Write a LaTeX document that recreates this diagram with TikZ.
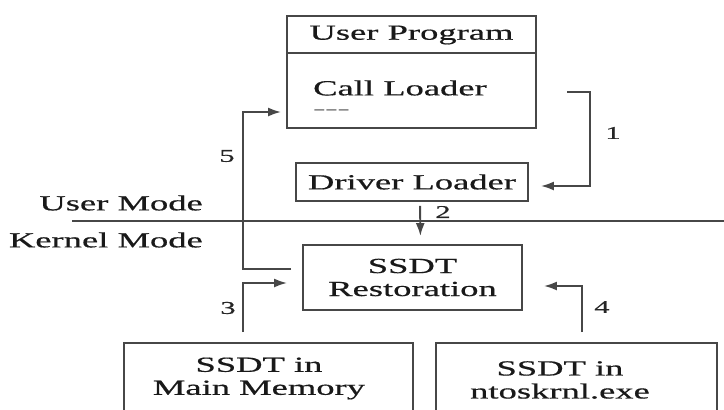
\documentclass[tikz,border=0pt]{standalone}
\usepackage{fontspec}
\setmainfont[FakeStretch=1.7,FakeBold=0.6]{Liberation Serif}
\usetikzlibrary{arrows.meta}
\tikzstyle{box} = [draw=black!72, line width=1.9pt, rectangle, inner sep=0pt]
\tikzstyle{txt} = [inner sep=0pt, text=black!90, align=center, font=\fontsize{21.5}{23}\selectfont]
\tikzstyle{num} = [inner sep=0pt, text=black!85, font=\fontsize{18}{20}\selectfont]
\tikzstyle{flow} = [draw=black!72, line width=1.9pt, ->]

\begin{document}
\begin{tikzpicture}[x=1pt, y=-1pt, >={Latex[length=13pt,width=9pt]}]
    \useasboundingbox (0,0) rectangle (724,410);
    \clip (0,0) rectangle (724,410);
    % user side
    \node[box, minimum width=249pt, minimum height=112pt](prog) at (411.5,72){};
    \draw[draw=black!72, line width=1.9pt] (prog.west |- 0,53) -- (prog.east |- 0,53);
    \node[txt](title) at (411.5,35){User Program};
    \node[txt, anchor=west](call) at (313,88){Call Loader};
    \node[txt, anchor=west, text=black!45](more) at (313,112){-{}-{}-};
    \node[box, txt, draw=black!72, minimum width=232pt, minimum height=38pt](loader) at (412,182){Driver Loader};
    % mode boundary
    \draw[draw=black!72, line width=1.5pt] (72,221) -- (724,221);
    \node[txt, anchor=east](user) at (203,203){User Mode};
    \node[txt, anchor=east](kernel) at (203,240){Kernel Mode};
    % kernel side
    \node[box, txt, draw=black!72, minimum width=219pt, minimum height=65pt](restore) at (412.5,277.5){SSDT\\Restoration};
    \node[box, minimum width=289pt, minimum height=117pt](mem) at (268.5,401.5){};
    \node[box, minimum width=281pt, minimum height=117pt](nt) at (576.5,401.5){};
    \node[txt](memtxt) at (259,378.5){SSDT in\\Main Memory};
    \node[txt](nttxt) at (560,380){SSDT in\\ntoskrnl.exe};
    % numbered steps
    \coordinate (c1) at (567,92);
    \draw[flow, shorten >=12pt] (c1) -- ++(23,0) |- ([yshift=-4pt]loader.east);
    \draw[flow, shorten <=4pt, shorten >=8pt] ([xshift=8pt]loader.south) -- ([xshift=8pt]restore.north);
    \draw[flow, shorten <=10pt, shorten >=15pt] ([xshift=-25.5pt]mem.north) |- ([yshift=-5.5pt]restore.west);
    \draw[flow, shorten <=10pt, shorten >=21pt] ([xshift=5.5pt]nt.north) |- ([yshift=-8.5pt]restore.east);
    \draw[flow, shorten <=11pt, shorten >=5pt] ([yshift=8.5pt]restore.west) -| (243,112) -- ([yshift=-40pt]prog.west);
    \node[num](n1) at (613,133){1};
    \node[num](n2) at (443,212){2};
    \node[num](n3) at (228,308){3};
    \node[num](n4) at (602,307){4};
    \node[num](n5) at (227,156){5};
  \end{tikzpicture}
\end{document}
